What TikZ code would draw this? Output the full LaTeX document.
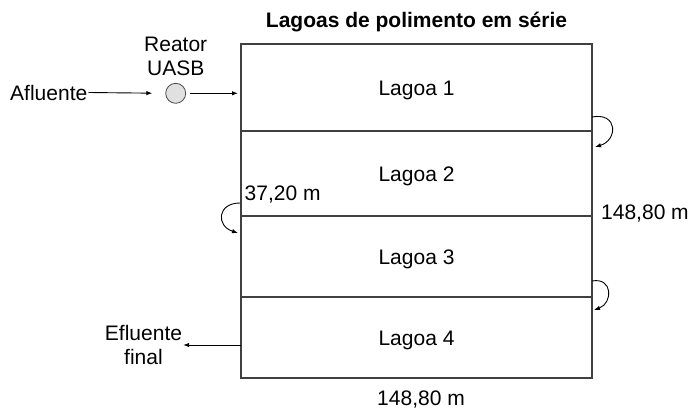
\documentclass[tikz,border=0pt]{standalone}
\usepackage{fontspec}
\setmainfont{Liberation Sans}
\usetikzlibrary{arrows.meta,positioning}
\tikzset{
  lagoa/.style={draw=black!75, line width=1.3pt, minimum width=351pt,
                outer sep=0pt, inner sep=0pt, text height=15pt, text depth=0pt,
                font=\fontsize{21}{24}\selectfont},
  rotulo/.style={inner sep=1pt, text height=15pt, text depth=0pt,
                 font=\fontsize{21}{24}\selectfont},
  rotulos/.style={inner sep=1pt, align=center,
                  font=\fontsize{21}{23.5}\selectfont},
  fluxo/.style={line width=0.9pt, -{Latex[length=6pt,width=4.5pt]}},
  reator/.style={circle, draw=black!70, fill=black!12, line width=0.8pt,
                 minimum size=20pt, inner sep=0pt}
}

\begin{document}
\begin{tikzpicture}[x=1pt,y=-1pt]
    \useasboundingbox (0,0) rectangle (692,410);

    % lagoas em serie
    \node[lagoa, minimum height=87pt] (lag1) at (416.5,87.5) {Lagoa 1};
    \node[lagoa, minimum height=85pt, below=0pt of lag1] (lag2) {Lagoa 2};
    \node[lagoa, minimum height=81pt, below=0pt of lag2] (lag3) {Lagoa 3};
    \node[lagoa, minimum height=81pt, below=0pt of lag3] (lag4) {Lagoa 4};

    \node[rotulo, font=\fontsize{21}{24}\selectfont\bfseries, above=15.5pt of lag1] (titulo)
        {Lagoas de polimento em série};

    % dimensoes
    \node[rotulo, anchor=west] (dimr) at (600,211.5) {148,80 m};
    \node[rotulo] (dimb) at (421,397.5) {148,80 m};
    \node[rotulo, anchor=west] (diml) at (243.5,192.5) {37,20 m};

    % entrada
    \node[rotulo, anchor=east] (afl) at (88.5,92.5) {Afluente};
    \node[reator] (uasb) at (175.7,93.3) {};
    \node[rotulos, above=6pt of uasb] (uasbtxt) {Reator\\UASB};

    \draw[fluxo, shorten >=13pt] (afl.east) -- (uasb.west);
    \draw[fluxo, shorten <=4pt, shorten >=3pt] (uasb.east) -- (lag1.west |- uasb.east);

    % saida
    \node[rotulos] (efl) at (143.5,345) {Efluente\\final};
    \draw[fluxo] (lag4.west |- efl.east) -- (efl.east);

    % passagens entre lagoas
    \coordinate (p1a) at (592,117);
    \coordinate (p1b) at (595,147);
    \coordinate (p2a) at (240,203);
    \coordinate (p2b) at (238,233);
    \coordinate (p3a) at (592,281);
    \coordinate (p3b) at (594,310);

    \draw[fluxo] (p1a) .. controls (618,112) and (618,140) .. (p1b);
    \draw[fluxo] (p2a) .. controls (217,203) and (216,226) .. (p2b);
    \draw[fluxo] (p3a) .. controls (613,277) and (613,303) .. (p3b);
\end{tikzpicture}
\end{document}
